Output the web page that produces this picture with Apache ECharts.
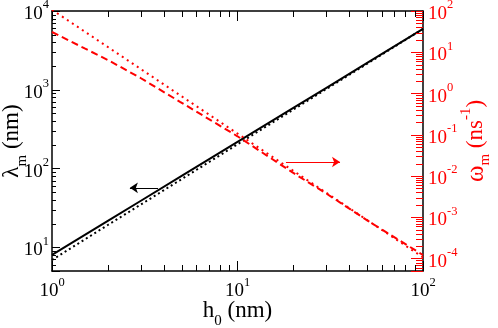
<!DOCTYPE html>
<html>
<head>
<meta charset="utf-8">
<script src="https://cdn.jsdelivr.net/npm/echarts@6.0.0/dist/echarts.min.js"></script>
<style>html,body{margin:0;padding:0;background:#fff;}#chart{width:498px;height:328px;}</style>
</head>
<body>
<div id="chart"></div>
<script>
// ---- data ----
const hLambda = [1, 2, 3, 5, 10, 20, 30, 50, 100];
const lambdaSolid = [8.0, 21.7, 38.7, 80.6, 218, 589, 1052, 2190, 5916];
const lambdaDotted = [6.9, 19.2, 34.7, 73.4, 203, 560, 1016, 2141, 5930];
const hOmegaDashed = [1, 1.5, 2, 3, 4.9, 10, 20.8, 30, 50, 100];
const omegaDashed = [31, 12.4, 6.5, 2.38, 0.63, 0.092, 0.0106, 0.00382, 0.000845, 0.000122];
const hOmegaDotted = [1, 2, 5, 10, 20, 50, 100];
const omegaDotted = [107, 13.4, 0.856, 0.107, 0.0134, 0.000856, 0.000107];
// minor tick values
const xMinorTicks = [2,3,4,5,6,7,8,9,20,30,40,50,60,70,80,90];
const lambdaMinorTicks = [6,7,8,9,20,30,40,50,60,70,80,90,200,300,400,500,600,700,800,900,2000,3000,4000,5000,6000,7000,8000,9000];
const omegaMinorTicks = [6e-5,7e-5,8e-5,9e-5,2e-4,3e-4,4e-4,5e-4,6e-4,7e-4,8e-4,9e-4,2e-3,3e-3,4e-3,5e-3,6e-3,7e-3,8e-3,9e-3,
  0.02,0.03,0.04,0.05,0.06,0.07,0.08,0.09,0.2,0.3,0.4,0.5,0.6,0.7,0.8,0.9,2,3,4,5,6,7,8,9,20,30,40,50,60,70,80,90];
// arrow annotations (data space)
const arrowLambda = [[3.73, 56.8], [2.63, 56.8]];
const arrowOmega = [[18.25, 0.0219], [35.7, 0.0219]];

const SERIF = '"Liberation Serif","Times New Roman",serif';
const RED = '#ff0000';
const chart = echarts.init(document.getElementById('chart'), null, {renderer: 'canvas', width: 498, height: 328});

function pow10Label(v) {
  const l = Math.log10(v);
  const e = Math.round(l);
  if (Math.abs(l - e) > 1e-6) return '';
  return '{b|10}{s|' + e + '}';
}
function labelRich(color) {
  return {
    b: {fontFamily: SERIF, fontSize: 19, lineHeight: 25, verticalAlign: 'bottom', color: color},
    s: {fontFamily: SERIF, fontSize: 12.5, verticalAlign: 'top', color: color}
  };
}
function nameRich(color) {
  return {
    t: {fontFamily: SERIF, fontSize: 23, lineHeight: 30, verticalAlign: 'top', color: color},
    sub: {fontFamily: SERIF, fontSize: 15, verticalAlign: 'bottom', color: color}
  };
}
const zip = (a, b) => a.map((x, i) => [x, b[i]]);

const option = {
  animation: false,
  backgroundColor: '#fff',
  grid: {left: 52, right: 75, top: 11, bottom: 57, containLabel: false, outerBoundsMode: 'none'},
  xAxis: [
    {
      type: 'log', logBase: 10, min: 1, max: 100, position: 'bottom',
      axisLine: {show: true, onZero: false, lineStyle: {color: '#000', width: 1.5}},
      axisTick: {show: true, inside: true, length: 10, lineStyle: {color: '#000', width: 1}},
      axisLabel: {margin: 5, formatter: pow10Label, rich: labelRich('#000')},
      splitLine: {show: false},
      name: '{t|h}{sub|0}{t| (nm)}', nameLocation: 'middle', nameGap: 28, nameMoveOverlap: false,
      nameTextStyle: {rich: nameRich('#000')}
    },
    {
      type: 'log', logBase: 10, min: 1, max: 100, position: 'top',
      axisLine: {show: true, onZero: false, lineStyle: {color: '#000', width: 1.5}},
      axisTick: {show: true, inside: true, length: 10, lineStyle: {color: '#000', width: 1}},
      axisLabel: {show: false},
      splitLine: {show: false}
    }
  ],
  yAxis: [
    {
      type: 'log', logBase: 10, min: 5, max: 10000, position: 'left',
      axisLine: {show: true, onZero: false, lineStyle: {color: '#000', width: 1.5}},
      axisTick: {show: true, inside: true, length: 8, lineStyle: {color: '#000', width: 1}},
      axisLabel: {margin: 3, formatter: pow10Label, rich: labelRich('#000')},
      splitLine: {show: false},
      name: '{t|\u03bb}{sub|m}{t| (nm)}', nameLocation: 'middle', nameGap: 22, nameRotate: 90, nameMoveOverlap: false,
      nameTextStyle: {rich: nameRich('#000')}
    },
    {
      type: 'log', logBase: 10, min: 0.00005, max: 100, position: 'right',
      axisLine: {show: true, onZero: false, lineStyle: {color: '#000', width: 1.5}},
      axisTick: {show: true, inside: true, length: 12, lineStyle: {color: RED, width: 1}},
      axisLabel: {margin: 5, formatter: pow10Label, rich: labelRich(RED)},
      splitLine: {show: false},
      name: '{w|\u03c9}{sub|m}{t| (ns}{p|-1}{t|)}', nameLocation: 'middle', nameGap: 36, nameRotate: 90, nameMoveOverlap: false,
      nameTextStyle: {rich: {
        w: {fontFamily: SERIF, fontSize: 25, lineHeight: 34, color: RED},
        t: {fontFamily: SERIF, fontSize: 23, lineHeight: 34, color: RED},
        sub: {fontFamily: SERIF, fontSize: 15, verticalAlign: 'bottom', color: RED},
        p: {fontFamily: SERIF, fontSize: 15, verticalAlign: 'top', color: RED}
      }}
    }
  ],
  series: [
    {
      type: 'line', xAxisIndex: 0, yAxisIndex: 0, data: zip(hLambda, lambdaSolid),
      showSymbol: false, symbol: 'none', smooth: false,
      lineStyle: {color: '#000', width: 2, type: 'solid'},
      markLine: {
        silent: true, symbol: ['none', 'arrow'], symbolSize: 8,
        label: {show: false},
        lineStyle: {color: '#000', width: 1, type: 'solid'},
        data: [[{coord: arrowLambda[0]}, {coord: arrowLambda[1]}]]
      }
    },
    {
      type: 'line', xAxisIndex: 0, yAxisIndex: 0, data: zip(hLambda, lambdaDotted),
      showSymbol: false, symbol: 'none',
      lineStyle: {color: '#000', width: 2, type: [2, 3]}
    },
    {
      type: 'line', xAxisIndex: 0, yAxisIndex: 1, data: zip(hOmegaDashed, omegaDashed),
      showSymbol: false, symbol: 'none',
      lineStyle: {color: RED, width: 2, type: [7, 4]},
      markLine: {
        silent: true, symbol: ['none', 'arrow'], symbolSize: 8,
        label: {show: false},
        lineStyle: {color: RED, width: 1, type: 'solid'},
        data: [[{coord: arrowOmega[0]}, {coord: arrowOmega[1]}]]
      }
    },
    {
      type: 'line', xAxisIndex: 0, yAxisIndex: 1, data: zip(hOmegaDotted, omegaDotted),
      showSymbol: false, symbol: 'none',
      lineStyle: {color: RED, width: 2, type: [2, 4]}
    }
  ]
};
chart.setOption(option);

// minor ticks positioned through the axes' own scales
const px = (axis, v) => chart.convertToPixel(axis, v);
const xL = px({xAxisIndex: 0}, 1), xR = px({xAxisIndex: 0}, 100);
const yT = px({yAxisIndex: 0}, 10000), yB = px({yAxisIndex: 0}, 5);
const g = [];
function seg(x1, y1, x2, y2, color) {
  g.push({type: 'line', silent: true, z: 50, shape: {x1: x1, y1: y1, x2: x2, y2: y2}, style: {stroke: color, lineWidth: 1}});
}
xMinorTicks.forEach(v => {
  const x = Math.round(px({xAxisIndex: 0}, v)) + 0.5;
  seg(x, yB, x, yB - 6, '#000');
  seg(x, yT, x, yT + 6, '#000');
});
lambdaMinorTicks.forEach(v => {
  const y = Math.round(px({yAxisIndex: 0}, v)) + 0.5;
  seg(xL, y, xL + 4, y, '#000');
});
omegaMinorTicks.forEach(v => {
  const y = Math.round(px({yAxisIndex: 1}, v)) + 0.5;
  seg(xR, y, xR - 7, y, RED);
});
chart.setOption({graphic: g});
</script>
</body>
</html>
